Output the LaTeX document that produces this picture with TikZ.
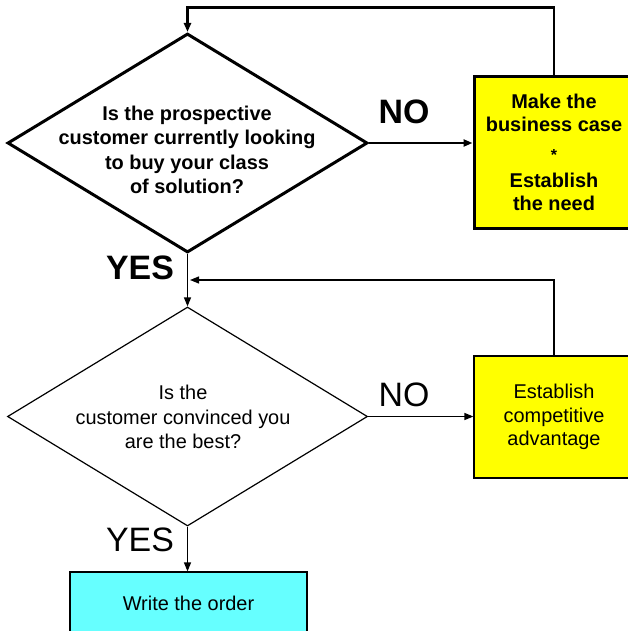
\documentclass[tikz,border=0pt]{standalone}
\usepackage{fontspec}
\setmainfont{Liberation Sans}
\usetikzlibrary{shapes.geometric,arrows.meta}
\definecolor{needc}{RGB}{255,255,0}
\definecolor{advc}{RGB}{255,255,0}
\definecolor{orderc}{RGB}{102,255,255}

\begin{document}
\begin{tikzpicture}[x=1bp, y=-1bp, line join=miter]
		\tikzstyle{decision}=[diamond, draw=black, inner sep=0pt, minimum width=360bp, minimum height=219bp]
		\tikzstyle{action}=[rectangle, draw=black, inner sep=0pt, minimum width=160bp, align=center]
		\tikzstyle{qtext}=[align=center, inner sep=0pt, font=\fontsize{20}{24.5}\selectfont]
		\tikzstyle{answer}=[inner sep=0pt, font=\fontsize{34}{40}\selectfont]
		\tikzstyle{heavy}=[line width=3bp]
		\tikzstyle{light}=[line width=1.2bp]
		\tikzstyle{flow}=[-{Triangle[length=9bp,width=7bp]}]

		\useasboundingbox (0,0) rectangle (628,631);

		% First question
		\node[decision, heavy](Q1) at (187.5,143) {};
		\node[qtext, font=\fontsize{20}{24.5}\selectfont\bfseries](Q1t) at (187,150)
			{Is the prospective\\customer currently looking\\to buy your class\\of solution?};
		\node[action, heavy, fill=needc, minimum height=151bp, font=\fontsize{20}{23}\selectfont\bfseries](B1) at (554,152.5)
			{Make the\\business case\\[6bp]{\fontsize{16}{23}\selectfont *}\\[4bp]Establish\\the need};
		\node[answer, font=\fontsize{34}{40}\selectfont\bfseries](NO1) at (404,112) {NO};
		\node[answer, font=\fontsize{34}{40}\selectfont\bfseries](YES1) at (140,268) {YES};

		% Second question
		\node[decision, light](Q2) at (187.5,416.5) {};
		\node[qtext](Q2t) at (183,417)
			{Is the\\customer convinced you\\are the best?};
		\node[action, light, fill=advc, minimum height=122bp, font=\fontsize{20}{23.5}\selectfont](B2) at (554,417)
			{Establish\\competitive\\advantage};
		\node[answer](NO2) at (404,395) {NO};
		\node[answer](YES2) at (140,540) {YES};

		% Order
		\node[action, light, fill=orderc, minimum width=237bp, minimum height=62bp, font=\fontsize{20}{24}\selectfont](O1) at (188.5,603) {Write the order};

		% Loops
		\coordinate (loop1) at (187.5,7.5);
		\coordinate (loop2) at (190,280);

		\draw[flow, line width=2.5bp] (Q1.east) -- (Q1.east -| B1.west);
		\draw[flow, line width=2.5bp] (B1.north) |- (loop1) -- (Q1.north);
		\draw[flow, light] (Q1.south) -- (Q2.north);
		\draw[flow, light] (B2.north) |- (loop2);
		\draw[flow, light] (Q2.east) -- (Q2.east -| B2.west);
		\draw[flow, light] (Q2.south) -- (Q2.south |- O1.north);

\end{tikzpicture}
\end{document}
